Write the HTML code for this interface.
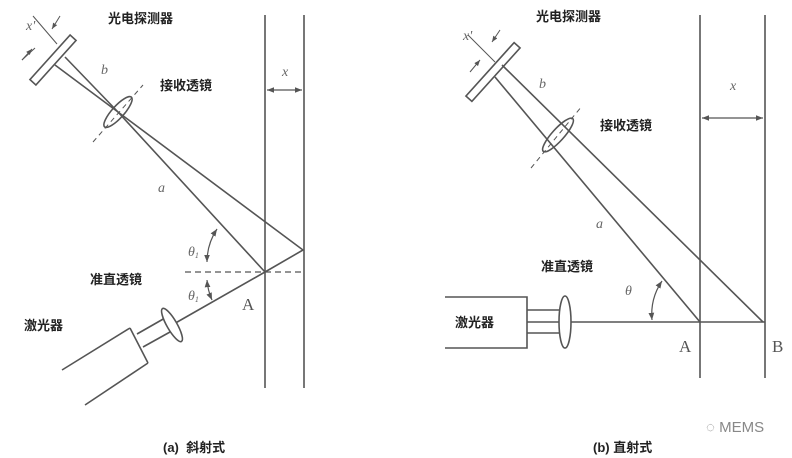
<!DOCTYPE html>
<html><head><meta charset="utf-8"><style>
body{margin:0;background:#fff;}
svg{display:block;}
.t{font-family:"Liberation Sans","Noto Sans CJK SC",sans-serif;font-weight:bold;font-size:13px;fill:#222;}
.i{font-family:"Liberation Serif",serif;font-style:italic;font-size:14px;fill:#666;}
.s{font-family:"Liberation Serif",serif;font-size:17px;fill:#555;}
</style></head><body>
<svg width="792" height="458" viewBox="0 0 792 458" xmlns="http://www.w3.org/2000/svg">
<defs>
<marker id="ar" viewBox="0 0 10 10" refX="10" refY="5" markerWidth="6" markerHeight="6" orient="auto-start-reverse"><path d="M0,1 L10,5 L0,9 z" fill="#555"/></marker>
</defs>
<g stroke="#555" stroke-width="1.6" fill="none">
<!-- LEFT -->
<line x1="265" y1="15" x2="265" y2="388"/>
<line x1="304" y1="15" x2="304" y2="388"/>
<line x1="267" y1="90" x2="302" y2="90" marker-start="url(#ar)" marker-end="url(#ar)" stroke-width="1.2"/>
<rect x="-4" y="-30" width="8" height="60" transform="translate(53,60) rotate(42)" fill="#fff"/>
<polyline points="55,65 118,112 303,250 265,272 172,325"/>
<polyline points="65,57 118,112 265,272"/>
<ellipse cx="118" cy="112" rx="6" ry="20" transform="rotate(42 118 112)" fill="none"/>
<line x1="93" y1="142" x2="143" y2="85" stroke-dasharray="5 4" stroke-width="1"/>
<line x1="185" y1="272" x2="305" y2="272" stroke-dasharray="6 4" stroke-width="1.2"/>
<line x1="33" y1="16" x2="57" y2="44" stroke-width="1"/>
<line x1="22" y1="60" x2="35" y2="48" stroke-width="1"/>
<line x1="60" y1="16" x2="52" y2="29" stroke-width="1" marker-end="url(#ar)"/>
<line x1="22" y1="60" x2="32" y2="49" stroke-width="1" marker-end="url(#ar)"/>
<path d="M217,229 A60,60 0 0 0 207,262" stroke-width="1.2" marker-start="url(#ar)" marker-end="url(#ar)"/>
<path d="M207,280 A60,60 0 0 0 212,300" stroke-width="1.2" marker-start="url(#ar)" marker-end="url(#ar)"/>
<line x1="62" y1="370" x2="130" y2="328"/>
<line x1="85" y1="405" x2="148" y2="363"/>
<line x1="130" y1="328" x2="148" y2="363"/>
<line x1="137" y1="334" x2="165" y2="318"/>
<line x1="143" y1="347" x2="170" y2="332"/>
<ellipse cx="172" cy="325" rx="5" ry="19" transform="rotate(-30 172 325)" fill="#fff"/>
<!-- RIGHT -->
<line x1="700" y1="15" x2="700" y2="378"/>
<line x1="765" y1="15" x2="765" y2="378"/>
<line x1="702" y1="118" x2="763" y2="118" marker-start="url(#ar)" marker-end="url(#ar)" stroke-width="1.2"/>
<rect x="-4" y="-36" width="8" height="72" transform="translate(493,72) rotate(42)" fill="#fff"/>
<line x1="502" y1="65" x2="763" y2="322"/>
<line x1="495" y1="77" x2="700" y2="322"/>
<ellipse cx="558" cy="135" rx="6" ry="22" transform="rotate(42 558 135)" fill="none"/>
<line x1="531" y1="168" x2="582" y2="106" stroke-dasharray="5 4" stroke-width="1"/>
<line x1="468" y1="35" x2="495" y2="62" stroke-width="1"/>
<line x1="470" y1="72" x2="480" y2="60" stroke-width="1" marker-end="url(#ar)"/>
<line x1="500" y1="30" x2="492" y2="42" stroke-width="1" marker-end="url(#ar)"/>
<path d="M662,281 A60,60 0 0 0 652,320" stroke-width="1.2" marker-start="url(#ar)" marker-end="url(#ar)"/>
<polyline points="445,297 527,297 527,348 445,348"/>
<line x1="527" y1="310" x2="563" y2="310"/>
<line x1="527" y1="333" x2="563" y2="333"/>
<line x1="527" y1="322" x2="765" y2="322"/>
<ellipse cx="565" cy="322" rx="6" ry="26" fill="#fff"/>
</g>
<text class="t" x="108" y="23">光电探测器</text>
<text class="t" x="160" y="90">接收透镜</text>
<text class="t" x="90" y="284">准直透镜</text>
<text class="t" x="24" y="330">激光器</text>
<text class="t" x="163" y="452">(a)&#160; 斜射式</text>
<text class="i" x="101" y="74">b</text>
<text class="i" x="158" y="192">a</text>
<text class="i" x="282" y="76">x</text>
<text class="i" x="26" y="30">x'</text>
<text class="i" x="188" y="256" font-size="12">θ<tspan font-size="8" dy="2">1</tspan></text>
<text class="i" x="188" y="300" font-size="12">θ<tspan font-size="8" dy="2">1</tspan></text>
<text class="s" x="242" y="310">A</text>
<text class="t" x="536" y="21">光电探测器</text>
<text class="t" x="600" y="130">接收透镜</text>
<text class="t" x="541" y="271">准直透镜</text>
<text class="t" x="455" y="327">激光器</text>
<text class="t" x="593" y="452">(b) 直射式</text>
<text class="i" x="539" y="88">b</text>
<text class="i" x="596" y="228">a</text>
<text class="i" x="730" y="90">x</text>
<text class="i" x="463" y="40">x'</text>
<text class="i" x="625" y="295">θ</text>
<text class="s" x="679" y="352">A</text>
<text class="s" x="772" y="352">B</text>
<text x="706" y="432" font-family="Liberation Sans,sans-serif" font-size="15" fill="#888">◌ MEMS</text>
</svg>
</body></html>
